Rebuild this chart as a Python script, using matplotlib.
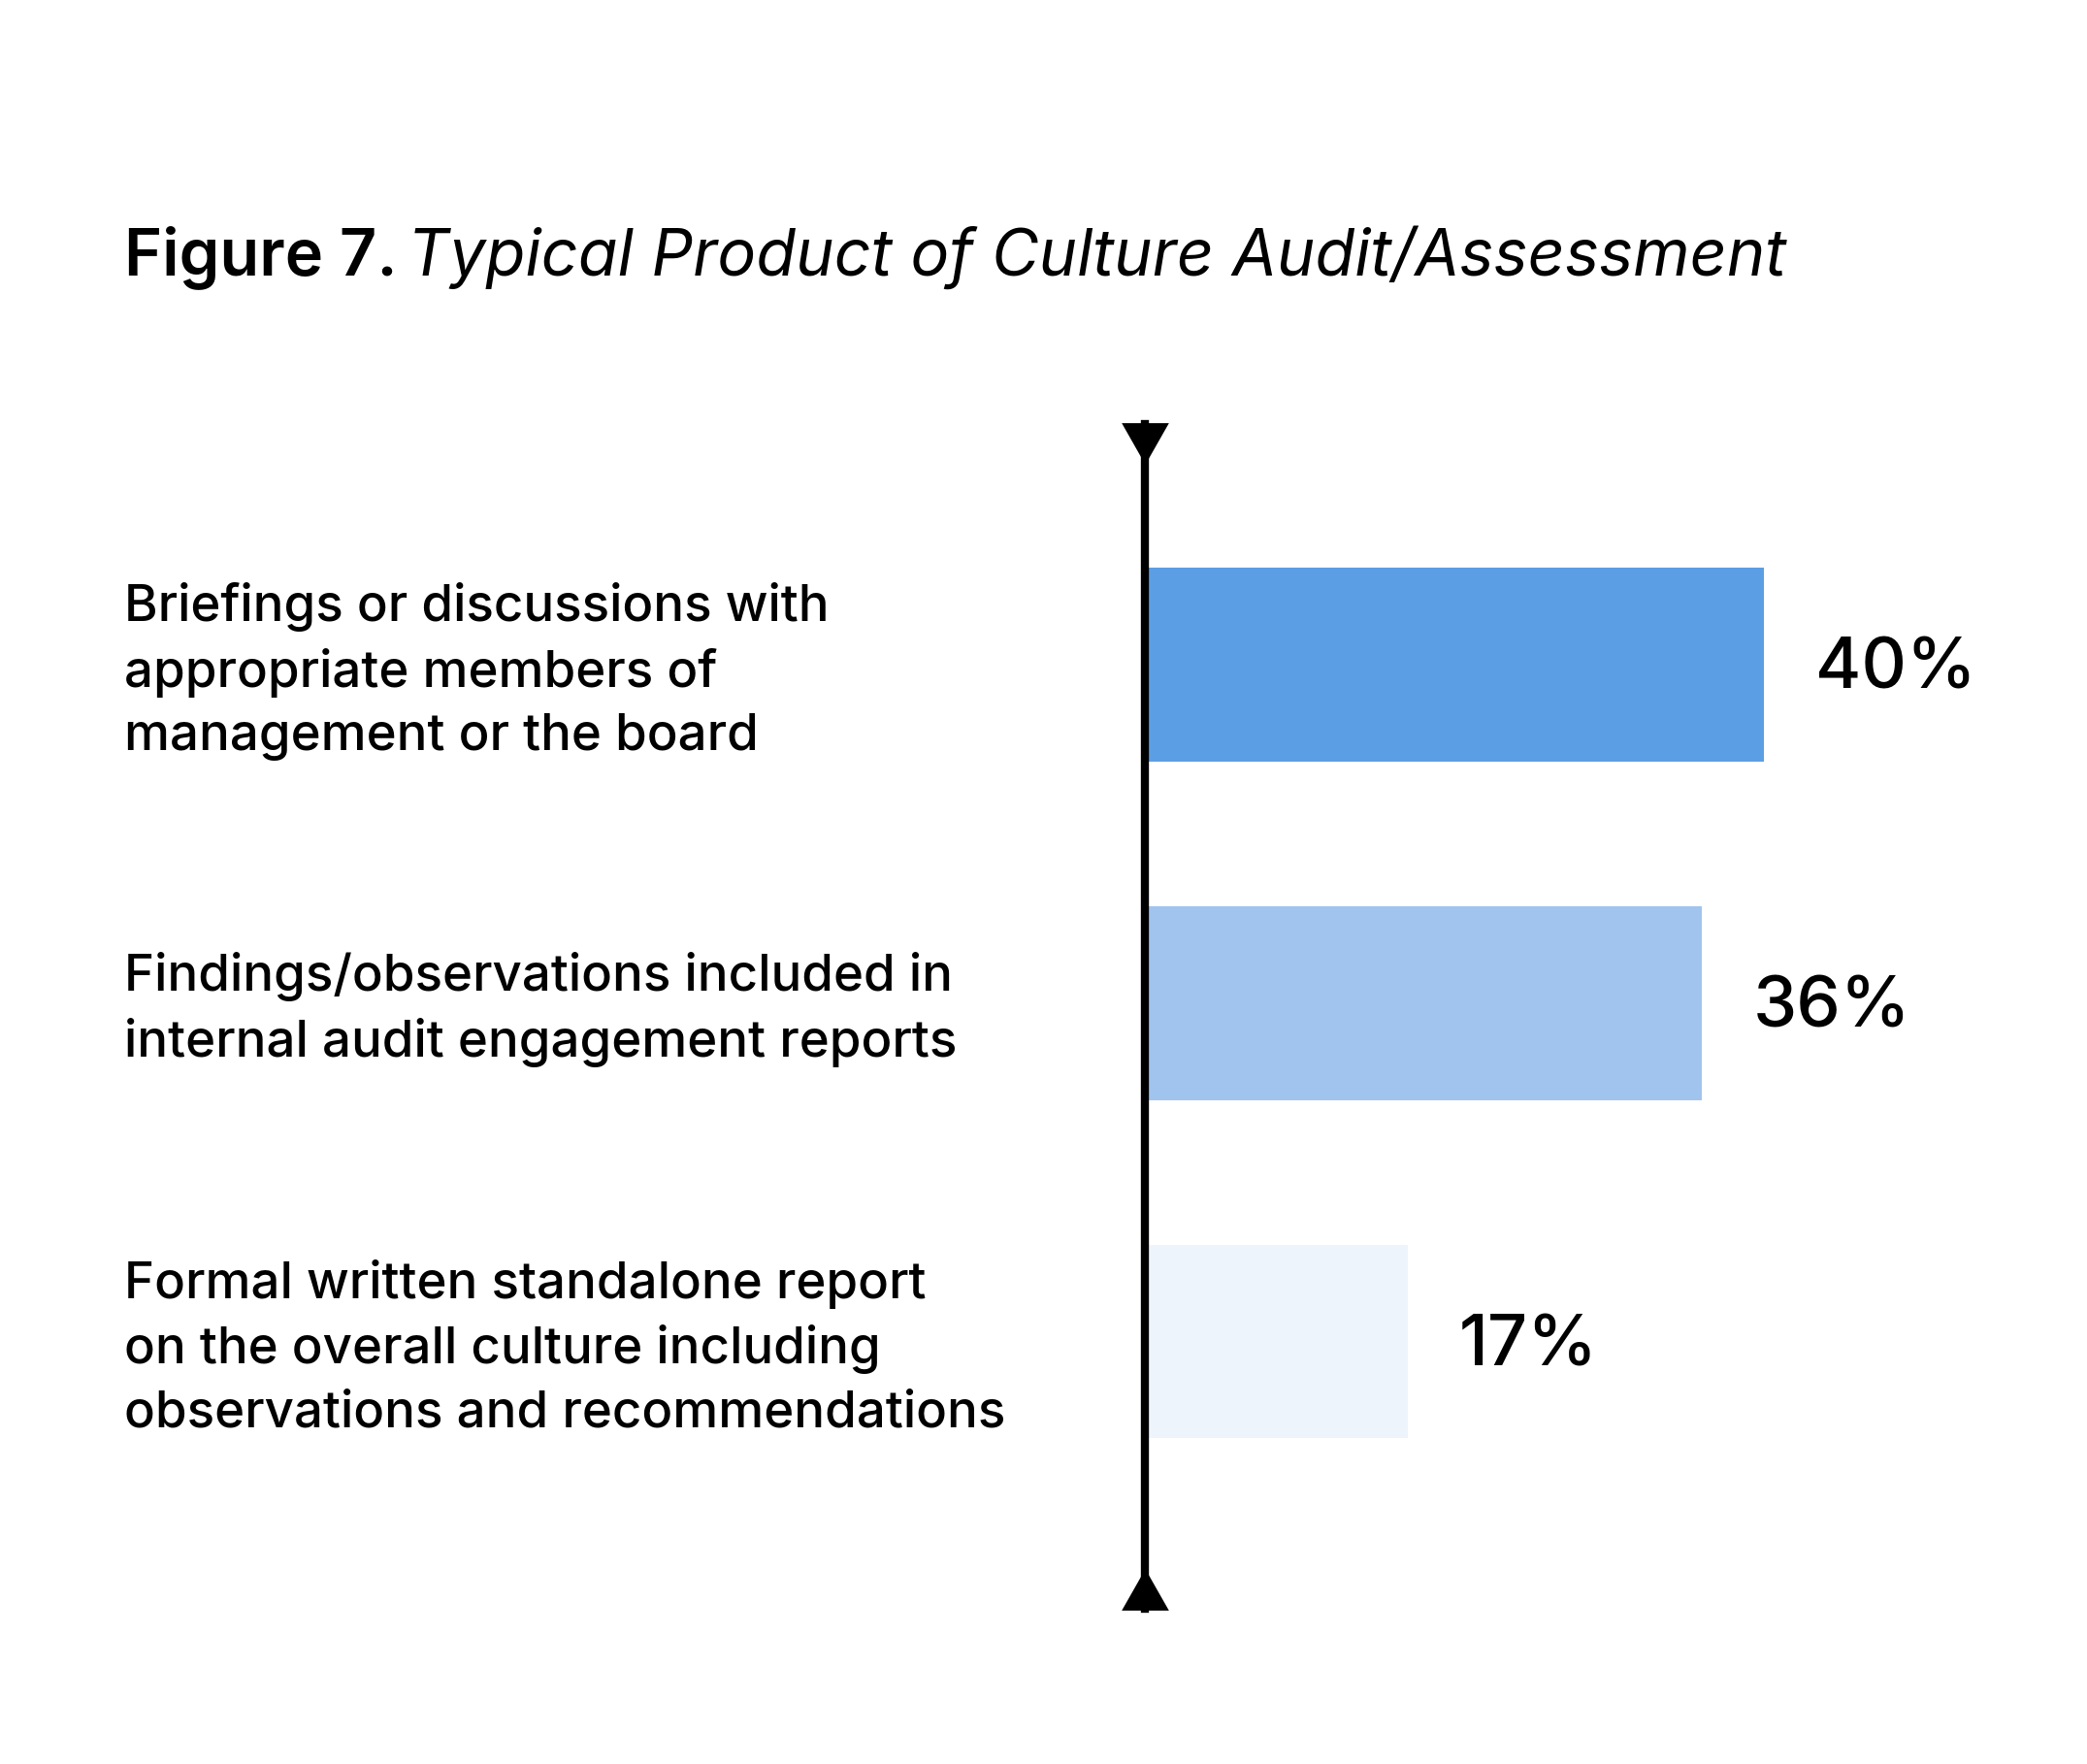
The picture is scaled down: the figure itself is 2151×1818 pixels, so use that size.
import matplotlib.pyplot as plt
from matplotlib.transforms import blended_transform_factory

plt.rcParams['font.family'] = ['Inter', 'DejaVu Sans']

categories = [
    "Briefings or discussions with\nappropriate members of\nmanagement or the board",
    "Findings/observations included in\ninternal audit engagement reports",
    "Formal written standalone report\non the overall culture including\nobservations and recommendations",
]
values = [40, 36, 17]
value_labels = ["40%", "36%", "17%"]
colors = ["#5C9EE3", "#A1C4EE", "#EDF4FC"]

fig = plt.figure(figsize=(21.51, 18.18), dpi=100)
fig.patch.set_facecolor("white")
ax = fig.add_axes([0.5488, 0.088, 0.4444, 0.6715])

ypos = list(range(len(values)))
ax.barh(ypos, values, height=0.573, color=colors, left=0)
ax.set_xlim(0, 60)
ax.set_ylim(2.79, -0.71)

for s in ["top", "right", "bottom"]:
    ax.spines[s].set_visible(False)
ax.spines["left"].set_linewidth(6)
ax.spines["left"].set_color("black")
ax.set_xticks([])
ax.set_yticks([])

# triangle caps on the axis line
tri_down = [(-1, 0.88), (1, 0.88), (0, -0.88), (-1, 0.88)]
tri_up = [(-1, -0.88), (1, -0.88), (0, 0.88), (-1, -0.88)]
ax.plot([0], [0.9835], marker=tri_down, ms=35, color="black", mew=0,
        transform=ax.transAxes, clip_on=False)
ax.plot([0], [0.0165], marker=tri_up, ms=35, color="black", mew=0,
        transform=ax.transAxes, clip_on=False)

for y, v, lab in zip(ypos, values, value_labels):
    ax.annotate(lab, xy=(v, y), xytext=(38, -4), textcoords="offset points",
                va="center", ha="left", fontsize=52, fontweight="medium", color="black")

tr = blended_transform_factory(fig.transFigure, ax.transData)
for y, cat in zip(ypos, categories):
    ax.annotate(cat, xy=(0.0597, y), xycoords=tr, xytext=(0, -5),
                textcoords="offset points", ha="left", va="center",
                fontsize=38, fontweight="medium", linespacing=1.42, color="black",
                annotation_clip=False)

t1 = fig.text(0.0597, 0.8443, "Figure 7.", fontsize=48, fontweight="semibold",
              va="baseline", ha="left")
ax.annotate("Typical Product of Culture Audit/Assessment", xy=(1, 0), xycoords=t1,
            xytext=(7, 0), textcoords="offset points", fontsize=48, style="italic",
            va="bottom", ha="left", annotation_clip=False)

fig.savefig("out.png", dpi=100)
